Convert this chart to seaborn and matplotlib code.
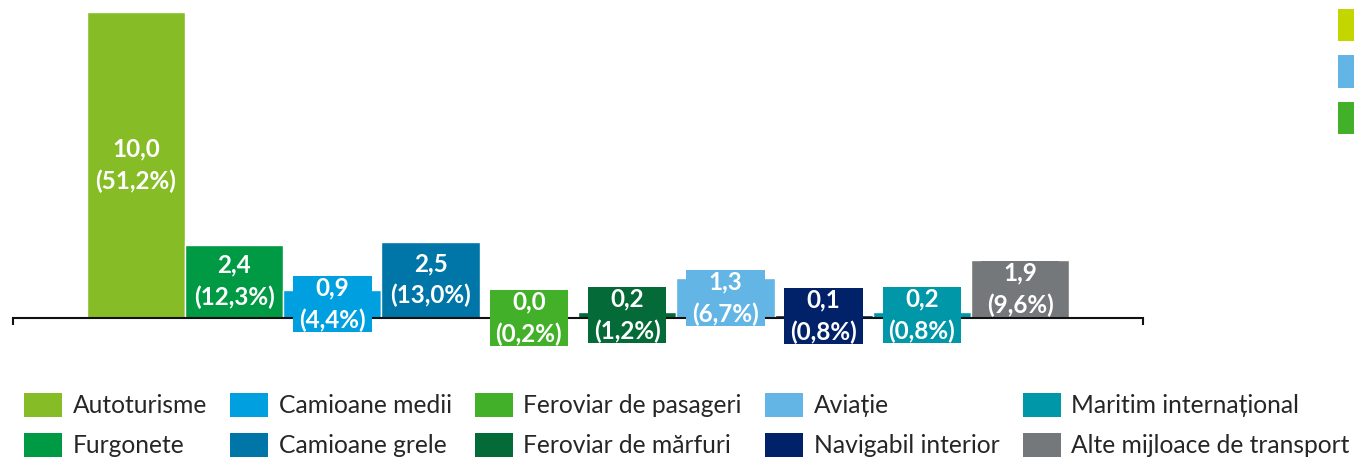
import matplotlib
matplotlib.use("Agg")
import matplotlib.pyplot as plt
import seaborn as sns
from matplotlib.patches import Patch, Rectangle

categories = [
    "Autoturisme", "Furgonete", "Camioane medii", "Camioane grele",
    "Feroviar de pasageri", "Feroviar de mărfuri", "Aviație",
    "Navigabil interior", "Maritim internațional", "Alte mijloace de transport",
]
values = [10.0, 2.4, 0.9, 2.5, 0.0, 0.2, 1.3, 0.1, 0.2, 1.9]
shares = [51.2, 12.3, 4.4, 13.0, 0.2, 1.2, 6.7, 0.8, 0.8, 9.6]
colors = ["#86bc25", "#009a44", "#00a0e0", "#0076a8", "#43b02a",
          "#046a38", "#62b5e5", "#012169", "#0097a9", "#75787b"]
# swatches of a neighbouring legend, cut off at the right edge
side_colors = ["#c4d600", "#62b5e5", "#43b02a"]

W, H = 1354, 466
PX_PER_UNIT = 30.6


def fmt(v):
    return f"{v:.1f}".replace(".", ",")


sns.set_style("white")
plt.rcParams["font.family"] = ["Lato", "DejaVu Sans"]

fig = plt.figure(figsize=(W / 100, H / 100), dpi=100)
ax = fig.add_axes([13 / W, 1 - 318 / H, (1143 - 13) / W, 318 / H])

sns.barplot(x=categories, y=values, hue=categories, palette=colors,
            width=1.0, saturation=1, legend=False, ax=ax)

ax.set_xlim(-1.25, 10.25)
ax.set_ylim(0, 318 / PX_PER_UNIT)

# label boxes: fixed size (about 80 x 56 px), centred on the bar middle
box_w = 0.8
box_h = 56 / PX_PER_UNIT
for bars, v, s in zip(ax.containers, values, shares):
    bar = bars[0]
    cx = bar.get_x() + bar.get_width() / 2
    cy = bar.get_height() / 2
    ax.add_patch(Rectangle((cx - box_w / 2, cy - box_h / 2), box_w, box_h,
                           fc=bar.get_facecolor(), ec="none", zorder=4,
                           clip_on=False))
    ax.text(cx, cy, f"{fmt(v)}\n({fmt(s)}%)",
            ha="center", va="center", color="white", fontsize=17.5,
            fontweight="bold", linespacing=1.45, zorder=5)

for side in ["left", "top", "right"]:
    ax.spines[side].set_visible(False)
ax.spines["bottom"].set_color("#111111")
ax.spines["bottom"].set_linewidth(1.5)
ax.set_xticks(ax.get_xlim())
ax.set_xticklabels(["", ""])
ax.tick_params(axis="x", direction="out", length=5, width=1.5,
               color="#111111", bottom=True)
ax.set_yticks([])
ax.set_xlabel("")
ax.set_ylabel("")

handles = [Patch(facecolor=c, edgecolor="none", label=n)
           for c, n in zip(colors, categories)]
fig.legend(handles=handles, loc="upper left", ncol=5,
           bbox_to_anchor=(24 / W, 1 - 393 / H), frameon=False,
           fontsize=17.7, borderpad=0, borderaxespad=0,
           handlelength=1.55, handleheight=1.14, handletextpad=0.42,
           columnspacing=0.95, labelspacing=0.62)

for i, c in enumerate(side_colors):
    top = 9 + i * 46.5
    fig.add_artist(Rectangle((1338 / W, 1 - (top + 32) / H), 30 / W, 32 / H,
                             transform=fig.transFigure, fc=c, ec="none"))

fig.savefig("out.png", dpi=100)
